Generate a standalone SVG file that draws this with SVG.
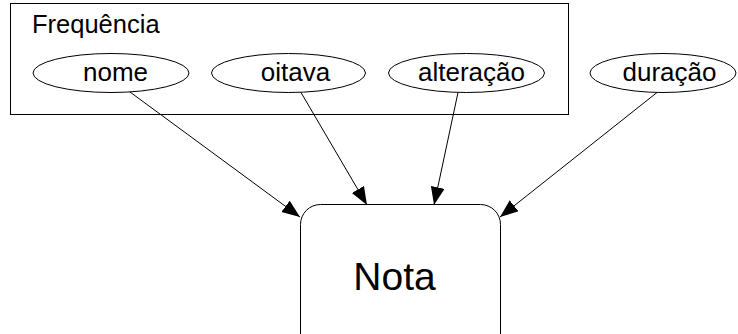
<svg xmlns="http://www.w3.org/2000/svg" width="738" height="334" viewBox="0 0 738 334">
<style>
text{font-family:"Liberation Sans",Arial,sans-serif;fill:#000}
.n{font-size:26px;text-anchor:middle}
.e{fill:none;stroke:#000;stroke-width:1}
.c{stroke:#000;stroke-width:1;fill:none}
</style>
<defs>
<marker id="ah" markerUnits="userSpaceOnUse" markerWidth="19" markerHeight="15" refX="18" refY="7" orient="auto">
<path d="M0,0 L18,7 L0,14 z" fill="#000"/>
</marker>
</defs>
<rect width="738" height="334" fill="#fff"/>
<g id="cluster_frequencia">
<rect x="10.5" y="3.5" width="558" height="111" class="e"/>
<text x="32" y="33" font-size="25.5">Frequência</text>
</g>
<g id="nome">
<ellipse cx="111" cy="73" rx="78" ry="19.5" class="e"/>
<text x="115.5" y="80.5" class="n">nome</text>
</g>
<g id="oitava">
<ellipse cx="288.5" cy="73" rx="77" ry="19.5" class="e"/>
<text x="295.5" y="80.5" class="n">oitava</text>
</g>
<g id="alteracao">
<ellipse cx="466.5" cy="73" rx="78" ry="19.5" class="e"/>
<text x="471.5" y="80.5" class="n">alteração</text>
</g>
<g id="duracao">
<ellipse cx="663" cy="73" rx="73" ry="19.5" class="e"/>
<text x="669.5" y="80.5" class="n">duração</text>
</g>
<g id="nota">
<rect x="300.5" y="204.5" width="200" height="150" rx="20" ry="20" class="e"/>
<text x="394.5" y="290" font-size="39" text-anchor="middle">Nota</text>
</g>
<g id="connectors">
<line x1="130" y1="92" x2="300" y2="217" class="c" marker-end="url(#ah)"/>
<line x1="301" y1="92.5" x2="367" y2="205" class="c" marker-end="url(#ah)"/>
<line x1="458" y1="92.5" x2="434" y2="205" class="c" marker-end="url(#ah)"/>
<line x1="657" y1="92.5" x2="500" y2="217" class="c" marker-end="url(#ah)"/>
</g>
</svg>
